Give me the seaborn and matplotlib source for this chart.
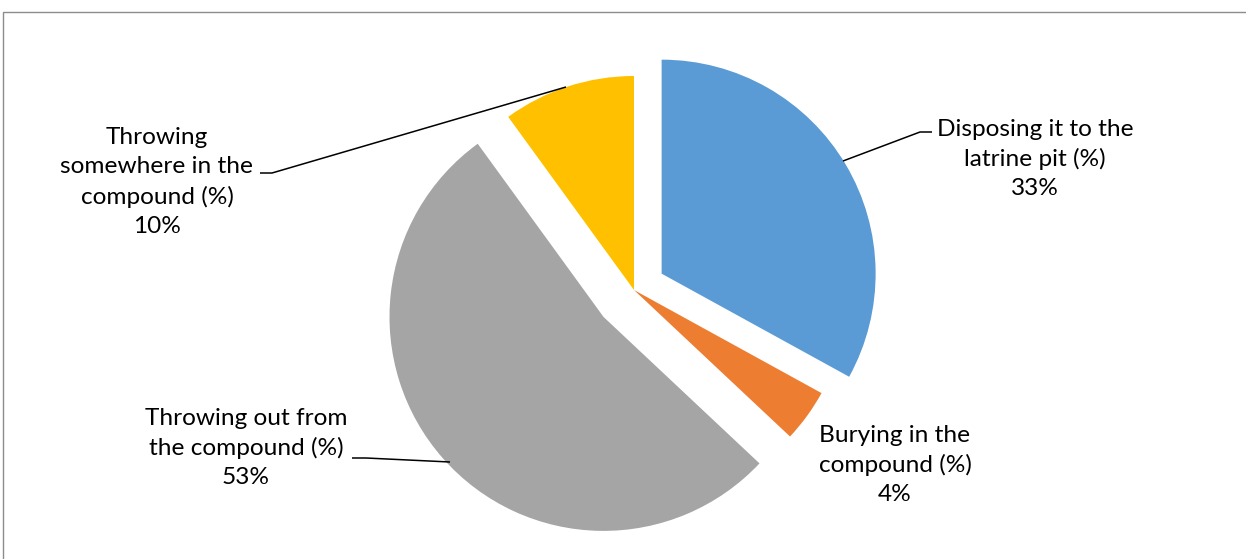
import matplotlib
matplotlib.use("Agg")
import matplotlib.pyplot as plt
import seaborn as sns
import numpy as np
from matplotlib.patches import Rectangle

# Disposal methods and their shares
categories = [
    "Disposing it to the\nlatrine pit (%)",
    "Burying in the\ncompound (%)",
    "Throwing out from\nthe compound (%)",
    "Throwing\nsomewhere in the\ncompound (%)",
]
shares = [33, 4, 53, 10]
slice_colors = ["#5B9BD5", "#ED7D31", "#A5A5A5", "#FFC000"]
explode_frac = [0.15, 0.0, 0.19, 0.0]

sns.set_theme(style="white")
plt.rcParams["font.family"] = ["Lato", "DejaVu Sans"]

W, H = 1246, 559
fig = plt.figure(figsize=(W / 100, H / 100), dpi=100)
ax = fig.add_axes([0, 0, 1, 1])

cx, cy, R = 634, H - 290, 214
wedges, _ = ax.pie(
    shares,
    colors=slice_colors,
    explode=[f * R for f in explode_frac],
    startangle=90,
    counterclock=False,
    center=(cx, cy),
    radius=R,
    wedgeprops=dict(linewidth=0),
    frame=True,
)
ax.set_xlim(0, W)
ax.set_ylim(0, H)
ax.set_aspect("auto")
ax.axis("off")

# label boxes: (centre x, top-line y) in pixels from the top-left
label_pos = [(1035, 127), (895, 433), (246, 416), (157, 134)]
line_h = 32
for name, v, (lx, ly) in zip(categories, shares, label_pos):
    txt = f"{name}\n{v}%"
    n = txt.count("\n") + 1
    yc = ly + line_h * (n - 1) / 2
    ax.text(lx, H - yc, txt, ha="center", va="center", fontsize=17.6,
            color="#000000", linespacing=1.47)

# leader lines
leaders = [
    [(843, 161), (920, 132), (932, 132)],
    [(352, 458), (366, 458), (450, 462)],
    [(260, 173), (272, 173), (566, 87)],
]
for pts in leaders:
    xs = [p[0] for p in pts]
    ys = [H - p[1] for p in pts]
    ax.plot(xs, ys, color="black", lw=1.1, solid_capstyle="butt")

# chart border
fig.patches.append(Rectangle((3 / W, -0.1), 1.2, 1.1 - 12 / H,
                             transform=fig.transFigure, fill=False,
                             edgecolor="#8C8C8C", lw=1.0))

fig.savefig("out.png", dpi=100, facecolor="white")
